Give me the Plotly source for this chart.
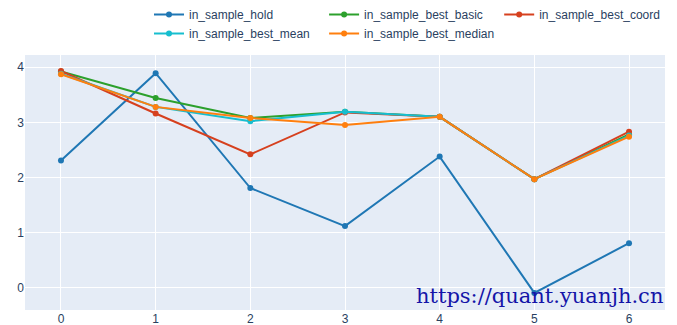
import plotly.graph_objects as go

x_vals = [0, 1, 2, 3, 4, 5, 6]
hold = [2.31, 3.89, 1.81, 1.12, 2.38, -0.09, 0.81]
best_basic = [3.92, 3.44, 3.08, 3.19, 3.10, 1.97, 2.78]
best_coord = [3.93, 3.16, 2.42, 3.18, 3.10, 1.97, 2.83]
best_mean = [3.88, 3.28, 3.02, 3.19, 3.10, 1.97, 2.76]
best_median = [3.87, 3.28, 3.08, 2.95, 3.10, 1.97, 2.74]

series = [
    ("in_sample_hold", hold, "#1f77b4"),
    ("in_sample_best_basic", best_basic, "#2ca02c"),
    ("in_sample_best_coord", best_coord, "#d6401e"),
    ("in_sample_best_mean", best_mean, "#17becf"),
    ("in_sample_best_median", best_median, "#ff7f0e"),
]

fig = go.Figure()
for name, vals, color in series:
    fig.add_trace(go.Scatter(
        x=x_vals, y=vals, name=name, mode="lines+markers",
        line=dict(color=color, width=2), marker=dict(color=color, size=6),
    ))

fig.update_layout(
    template="plotly",
    width=677, height=325,
    margin=dict(l=25, r=12, t=55, b=15),
    font=dict(family="Liberation Sans, Arial, sans-serif", size=12, color="#2a3f5f"),
    legend=dict(orientation="h", x=1, xanchor="right", xref="paper",
                y=1, yref="container", yanchor="top"),
    xaxis=dict(range=[-0.38, 6.38], automargin=False, zeroline=False, dtick=1),
    yaxis=dict(range=[-0.40, 4.22], automargin=False, zeroline=False, dtick=1),
    annotations=[dict(
        text="https://quant.yuanjh.cn", xref="paper", yref="paper",
        x=1, y=0, xanchor="right", yanchor="bottom", showarrow=False,
        font=dict(family="DejaVu Serif", size=21, color="#1414a8"),
    )],
)

fig.write_html("out.html")
